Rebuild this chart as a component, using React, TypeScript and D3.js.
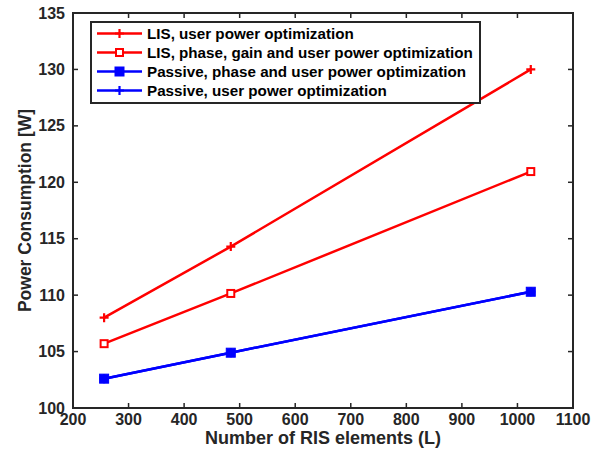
import React from "react";
import * as d3 from "d3";

const elements = [256, 484, 1024];
const lisUserPower = [108.0, 114.3, 130.0];
const lisPhaseGainUser = [105.7, 110.15, 120.95];
const passivePhaseUser = [102.6, 104.9, 110.3];
const passiveUserPower = [102.6, 104.9, 110.3];

const xTicks = [200, 300, 400, 500, 600, 700, 800, 900, 1000, 1100];
const yTicks = [100, 105, 110, 115, 120, 125, 130, 135];

const seriesNames = [
  "LIS, user power optimization",
  "LIS, phase, gain and user power optimization",
  "Passive, phase and user power optimization",
  "Passive, user power optimization",
];

type Marker = "plus" | "openSquare" | "filledSquare";

const series: { name: string; values: number[]; color: string; marker: Marker }[] = [
  { name: seriesNames[0], values: lisUserPower, color: "#ff0000", marker: "plus" },
  { name: seriesNames[1], values: lisPhaseGainUser, color: "#ff0000", marker: "openSquare" },
  { name: seriesNames[3], values: passiveUserPower, color: "#0000ff", marker: "plus" },
  { name: seriesNames[2], values: passivePhaseUser, color: "#0000ff", marker: "filledSquare" },
];

const legendOrder = [0, 1, 3, 2];

const W = 603;
const H = 460;
const left = 73;
const right = 573;
const top = 13;
const bottom = 408;
const axisColor = "#262626";
const font = "'Liberation Sans', Arial, Helvetica, sans-serif";

function MarkerShape({ kind, cx, cy, color }: { kind: Marker; cx: number; cy: number; color: string }) {
  if (kind === "plus") {
    const r = 4.5;
    return (
      <path
        d={`M${cx - r},${cy}H${cx + r}M${cx},${cy - r}V${cy + r}`}
        stroke={color}
        strokeWidth={2.2}
        fill="none"
      />
    );
  }
  if (kind === "openSquare") {
    const s = 7;
    return (
      <rect x={cx - s / 2} y={cy - s / 2} width={s} height={s} fill="#fff" stroke={color} strokeWidth={2} />
    );
  }
  const s = 9;
  return <rect x={cx - s / 2} y={cy - s / 2} width={s} height={s} fill={color} stroke={color} strokeWidth={1} />;
}

export default function App() {
  const x = d3.scaleLinear().domain([200, 1100]).range([left, right]);
  const y = d3.scaleLinear().domain([100, 135]).range([bottom, top]);
  const line = d3
    .line<number>()
    .x((_, i) => x(elements[i]))
    .y((v) => y(v));

  const tickLen = 5;
  const legX = 91;
  const legY = 22;
  const legW = 389;
  const legH = 81;
  const rowY = [33.5, 52.5, 71.5, 90.5];

  return (
    <svg width={W} height={H} style={{ position: "absolute", left: 0, top: 0, background: "#fff" }}>
      <rect x={0} y={0} width={W} height={H} fill="#fff" />

      {/* ticks on all four sides, pointing inward */}
      {xTicks.map((t) => (
        <g key={"xt" + t} stroke={axisColor} strokeWidth={1.5}>
          <line x1={x(t)} x2={x(t)} y1={bottom} y2={bottom - tickLen} />
          <line x1={x(t)} x2={x(t)} y1={top} y2={top + tickLen} />
        </g>
      ))}
      {yTicks.map((t) => (
        <g key={"yt" + t} stroke={axisColor} strokeWidth={1.5}>
          <line x1={left} x2={left + tickLen} y1={y(t)} y2={y(t)} />
          <line x1={right} x2={right - tickLen} y1={y(t)} y2={y(t)} />
        </g>
      ))}

      {/* data lines and markers */}
      {series.map((s, si) => (
        <g key={"s" + si}>
          <path d={line(s.values) ?? ""} fill="none" stroke={s.color} strokeWidth={2.5} />
          {s.values.map((v, i) => (
            <MarkerShape key={i} kind={s.marker} cx={x(elements[i])} cy={y(v)} color={s.color} />
          ))}
        </g>
      ))}

      {/* axes box */}
      <rect x={left} y={top} width={right - left} height={bottom - top} fill="none" stroke={axisColor} strokeWidth={2} />

      {/* tick labels */}
      {xTicks.map((t) => (
        <text
          key={"xl" + t}
          x={x(t)}
          y={bottom + 17}
          textAnchor="middle"
          fontFamily={font}
          fontWeight="bold"
          fontSize={16}
          fill="#262626"
        >
          {t}
        </text>
      ))}
      {yTicks.map((t) => (
        <text
          key={"yl" + t}
          x={left - 8}
          y={y(t) + 5.5}
          textAnchor="end"
          fontFamily={font}
          fontWeight="bold"
          fontSize={16}
          fill="#262626"
        >
          {t}
        </text>
      ))}

      {/* axis titles */}
      <text
        x={(left + right) / 2}
        y={bottom + 36}
        textAnchor="middle"
        fontFamily={font}
        fontWeight="bold"
        fontSize={18}
        fill="#262626"
      >
        Number of RIS elements (L)
      </text>
      <text
        transform={`translate(${31},${(top + bottom) / 2}) rotate(-90)`}
        textAnchor="middle"
        fontFamily={font}
        fontWeight="bold"
        fontSize={17.5}
        fill="#262626"
      >
        Power Consumption [W]
      </text>

      {/* legend */}
      <rect x={legX} y={legY} width={legW} height={legH} fill="#fff" stroke={axisColor} strokeWidth={2} />
      {legendOrder.map((si, row) => {
        const s = series[si];
        const cy = legY + rowY[row] - 22;
        return (
          <g key={"lg" + row}>
            <line x1={97} x2={142} y1={cy} y2={cy} stroke={s.color} strokeWidth={2.5} />
            <MarkerShape kind={s.marker} cx={119.5} cy={cy} color={s.color} />
            <text x={147} y={cy + 5.5} fontFamily={font} fontWeight="bold" fontSize={15.2} fill="#000">
              {s.name}
            </text>
          </g>
        );
      })}
    </svg>
  );
}
